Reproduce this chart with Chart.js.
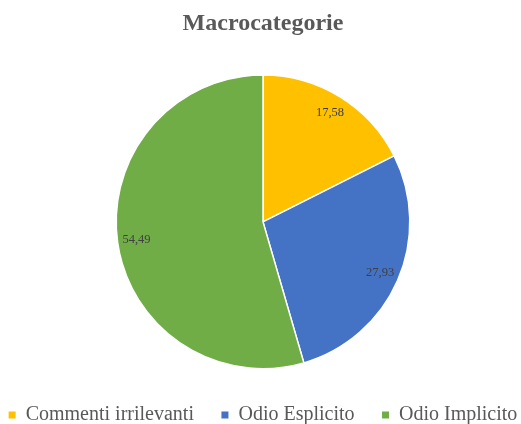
<!DOCTYPE html>
<html>
<head>
<meta charset="utf-8">
<script src="https://cdn.jsdelivr.net/npm/chart.js@4/dist/chart.umd.min.js"></script>
<style>
  html, body { margin: 0; padding: 0; background: #ffffff; overflow: hidden; }
  #wrap { width: 521px; height: 424px; overflow: hidden; }
  canvas { display: block; }
</style>
</head>
<body>
<div id="wrap"><canvas id="c" width="526" height="424"></canvas></div>
<script>
const categories = ['Commenti irrilevanti', 'Odio Esplicito', 'Odio Implicito'];
const values = [17.58, 27.93, 54.49];
const sliceColors = ['#FFC000', '#4472C4', '#70AD47'];
const valueLabels = ['17,58', '27,93', '54,49'];

const sliceLabelPlugin = {
  id: 'sliceLabels',
  afterDatasetsDraw(chart) {
    const ctx = chart.ctx;
    const meta = chart.getDatasetMeta(0);
    ctx.save();
    ctx.font = '12.5px "Liberation Serif", "Times New Roman", serif';
    ctx.fillStyle = '#404040';
    ctx.textAlign = 'center';
    ctx.textBaseline = 'middle';
    meta.data.forEach((arc, i) => {
      const p = arc.getProps(['x', 'y', 'startAngle', 'endAngle', 'outerRadius'], true);
      const mid = (p.startAngle + p.endAngle) / 2;
      const r = p.outerRadius * 0.87;
      ctx.fillText(valueLabels[i], p.x + Math.cos(mid) * r, p.y + Math.sin(mid) * r);
    });
    ctx.restore();
  }
};

new Chart(document.getElementById('c'), {
  type: 'pie',
  data: {
    labels: categories,
    datasets: [{
      data: values,
      backgroundColor: sliceColors,
      borderColor: '#ffffff',
      borderWidth: 1.5,
      radius: '94.8%'
    }]
  },
  options: {
    responsive: false,
    animation: false,
    devicePixelRatio: 1,
    layout: { padding: { left: -25, right: -25, top: 0, bottom: -11 } },
    plugins: {
      tooltip: { enabled: false },
      title: {
        display: true,
        text: 'Macrocategorie',
        color: '#595959',
        font: { family: '"Liberation Serif", "Times New Roman", serif', size: 24, weight: 'bold', lineHeight: 1.2 },
        padding: { top: 9, bottom: 28.5 }
      },
      legend: {
        display: true,
        position: 'bottom',
        labels: {
          color: '#595959',
          font: { family: '"Liberation Serif", "Times New Roman", serif', size: 20 },
          boxWidth: 7,
          boxHeight: 7,
          padding: 27.5,
          generateLabels: (chart) => categories.map((t, i) => ({
            text: t,
            fillStyle: sliceColors[i],
            strokeStyle: sliceColors[i],
            lineWidth: 0,
            fontColor: '#595959',
            hidden: false,
            index: i
          }))
        }
      }
    }
  },
  plugins: [sliceLabelPlugin]
});
</script>
</body>
</html>
